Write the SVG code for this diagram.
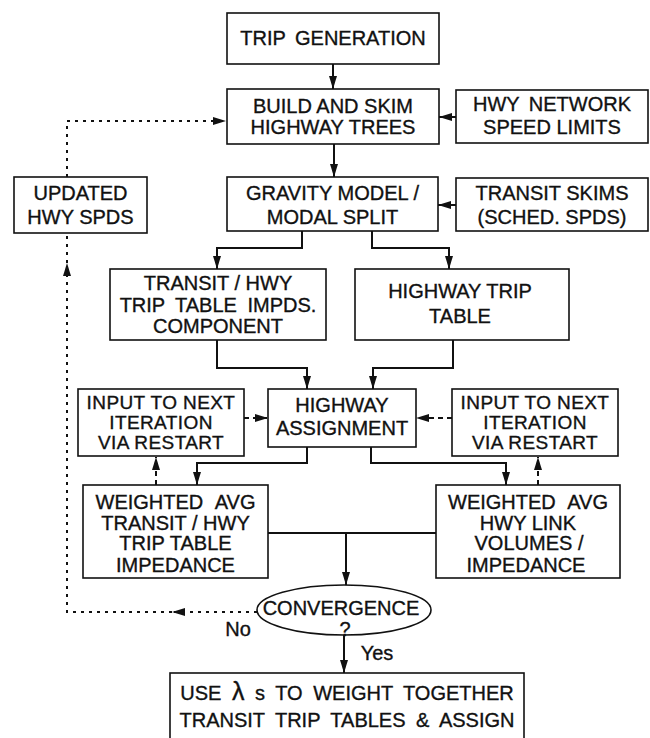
<svg xmlns="http://www.w3.org/2000/svg" width="650" height="738" viewBox="0 0 650 738">
  <style>
    .box { fill: #fff; stroke: #111; stroke-width: 1.6; }
    .t { font-family: "Liberation Sans", Arial, Helvetica, sans-serif; font-size: 20px; fill: #111; stroke: #111; stroke-width: 0.35; text-anchor: middle; }
    .s3 { font-size: 19px; letter-spacing: 0.4px; }
    .wire { fill: none; stroke: #111; stroke-width: 2; }
    .dot { fill: none; stroke: #111; stroke-width: 2; stroke-dasharray: 3 5; }
    .dash { fill: none; stroke: #111; stroke-width: 2; stroke-dasharray: 5 4; }
  </style>
  <defs>
    <marker id="arrow" markerUnits="userSpaceOnUse" markerWidth="13" markerHeight="8" refX="13" refY="4" orient="auto">
      <path d="M0,0 L13,4 L0,8 z" fill="#111"/>
    </marker>
  </defs>
  <rect width="650" height="738" fill="#fff"/>

  <!-- connectors -->
  <g id="connectors">
    <path class="wire" d="M333,64 V89" marker-end="url(#arrow)"/>
    <path class="wire" d="M334,144 V177" marker-end="url(#arrow)"/>
    <path class="wire" d="M456,117 H439" marker-end="url(#arrow)"/>
    <path class="wire" d="M456,205 H438" marker-end="url(#arrow)"/>
    <path class="wire" d="M302,231 V248 H217 V269" marker-end="url(#arrow)"/>
    <path class="wire" d="M372,231 V248 H449 V269" marker-end="url(#arrow)"/>
    <path class="wire" d="M217,340 V368 H307 V389" marker-end="url(#arrow)"/>
    <path class="wire" d="M453,340 V368 H373 V389" marker-end="url(#arrow)"/>
    <path class="wire" d="M307,447 V463 H197 V485" marker-end="url(#arrow)"/>
    <path class="wire" d="M371,447 V463 H506 V485" marker-end="url(#arrow)"/>
    <path class="wire" d="M268,533 H436"/>
    <path class="wire" d="M346,533 V585" marker-end="url(#arrow)"/>
    <path class="wire" d="M344,635 V673" marker-end="url(#arrow)"/>
    <!-- restart inputs -->
    <path class="dash" d="M244,418 H268" marker-end="url(#arrow)"/>
    <path class="dash" d="M452,418 H416" marker-end="url(#arrow)"/>
    <path class="dash" d="M156,485 V457" marker-end="url(#arrow)"/>
    <path class="dash" d="M538,485 V457" marker-end="url(#arrow)"/>
    <!-- feedback loop for non-convergence -->
    <path class="dot" d="M257,612 H172" marker-end="url(#arrow)"/>
    <path class="dot" d="M172,612 H67 V263" marker-end="url(#arrow)"/>
    <path class="dot" d="M67,263 V233"/>
    <path class="dot" d="M67,177 V121 H226" marker-end="url(#arrow)"/>
  </g>

  <g id="trip-generation">
    <rect class="box" x="227" y="13" width="212" height="51"/>
    <text class="t" x="333" y="45" word-spacing="4">TRIP GENERATION</text>
  </g>
  <g id="build-skim">
    <rect class="box" x="227" y="89" width="212" height="55"/>
    <text class="t" x="333" y="113">BUILD AND SKIM</text>
    <text class="t" x="333" y="134">HIGHWAY TREES</text>
  </g>
  <g id="hwy-network">
    <rect class="box" x="456" y="90" width="192" height="53"/>
    <text class="t" x="552" y="111" word-spacing="4">HWY NETWORK</text>
    <text class="t" x="552" y="134">SPEED LIMITS</text>
  </g>
  <g id="updated-spds">
    <rect class="box" x="14" y="177" width="133" height="56"/>
    <text class="t" x="80.5" y="200">UPDATED</text>
    <text class="t" x="80.5" y="224">HWY SPDS</text>
  </g>
  <g id="gravity-model">
    <rect class="box" x="227" y="177" width="211" height="54"/>
    <text class="t" x="332.5" y="200">GRAVITY MODEL /</text>
    <text class="t" x="332.5" y="224">MODAL SPLIT</text>
  </g>
  <g id="transit-skims">
    <rect class="box" x="456" y="178" width="192" height="53"/>
    <text class="t" x="552" y="200">TRANSIT SKIMS</text>
    <text class="t" x="552" y="224">(SCHED. SPDS)</text>
  </g>
  <g id="transit-hwy-table">
    <rect class="box" x="110" y="269" width="216" height="71"/>
    <text class="t" x="218" y="290">TRANSIT / HWY</text>
    <text class="t" x="218" y="312" word-spacing="5">TRIP TABLE IMPDS.</text>
    <text class="t" x="218" y="333">COMPONENT</text>
  </g>
  <g id="highway-trip-table">
    <rect class="box" x="355" y="269" width="214" height="71"/>
    <text class="t" x="460" y="298">HIGHWAY TRIP</text>
    <text class="t" x="460" y="323">TABLE</text>
  </g>
  <g id="input-left">
    <rect class="box" x="78" y="389" width="166" height="67"/>
    <text class="t s3" x="161" y="409">INPUT TO NEXT</text>
    <text class="t s3" x="161" y="429">ITERATION</text>
    <text class="t s3" x="161" y="449">VIA RESTART</text>
  </g>
  <g id="highway-assignment">
    <rect class="box" x="268" y="389" width="148" height="58"/>
    <text class="t" x="342" y="412">HIGHWAY</text>
    <text class="t" x="342" y="435">ASSIGNMENT</text>
  </g>
  <g id="input-right">
    <rect class="box" x="452" y="389" width="166" height="67"/>
    <text class="t s3" x="535" y="409">INPUT TO NEXT</text>
    <text class="t s3" x="535" y="429">ITERATION</text>
    <text class="t s3" x="535" y="449">VIA RESTART</text>
  </g>
  <g id="weighted-left">
    <rect class="box" x="83" y="485" width="185" height="93"/>
    <text class="t" x="175.5" y="509" word-spacing="7">WEIGHTED AVG</text>
    <text class="t" x="175.5" y="530">TRANSIT / HWY</text>
    <text class="t" x="175.5" y="550">TRIP TABLE</text>
    <text class="t" x="175.5" y="572">IMPEDANCE</text>
  </g>
  <g id="weighted-right">
    <rect class="box" x="436" y="485" width="184" height="93"/>
    <text class="t" x="528" y="509" word-spacing="7">WEIGHTED AVG</text>
    <text class="t" x="528" y="530">HWY LINK</text>
    <text class="t" x="529" y="550">VOLUMES /</text>
    <text class="t" x="526" y="572">IMPEDANCE</text>
  </g>
  <g id="convergence">
    <ellipse class="box" cx="344" cy="610" rx="87" ry="25"/>
    <text class="t" x="341" y="615">CONVERGENCE</text>
    <text class="t" x="345" y="636" font-size="17">?</text>
  </g>
  <text class="t" x="238" y="636">No</text>
  <text class="t" x="377" y="660">Yes</text>
  <g id="combine-assign">
    <rect class="box" x="170" y="673" width="354" height="80"/>
    <text class="t" x="347" y="700" word-spacing="5">USE <tspan font-size="25">λ</tspan> s TO WEIGHT TOGETHER</text>
    <text class="t" x="347" y="727" word-spacing="5">TRANSIT TRIP TABLES &amp; ASSIGN</text>
  </g>
</svg>
